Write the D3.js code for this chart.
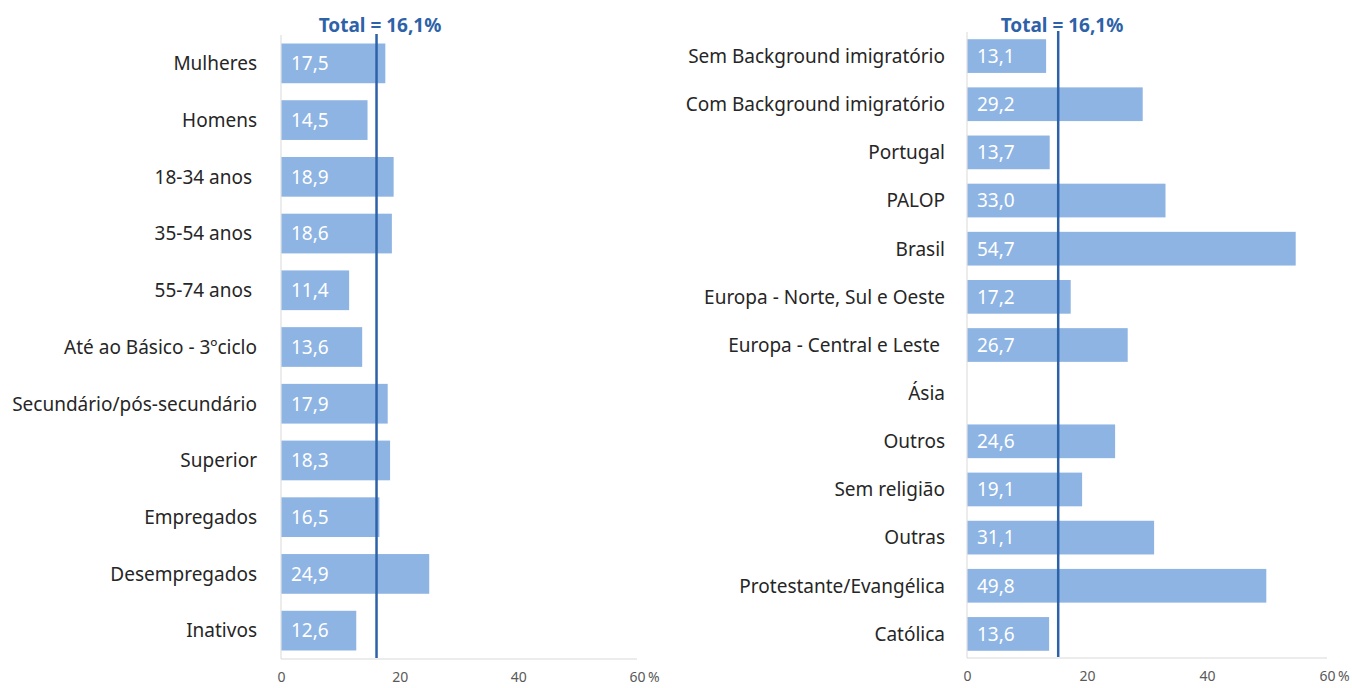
<!DOCTYPE html>
<html>
<head>
<meta charset="utf-8">
<script src="https://cdn.jsdelivr.net/npm/d3@7"></script>
<style>
  body { margin: 0; background: #fff; }
  svg { font-family: "Noto Sans", "Open Sans", sans-serif; }
</style>
</head>
<body>
<svg id="chart" width="1352" height="688"></svg>
<script>
// data
const left_categories = ['Mulheres', 'Homens', '18-34 anos ', '35-54 anos ', '55-74 anos ',
  'Até ao Básico - 3ºciclo', 'Secundário/pós-secundário', 'Superior', 'Empregados',
  'Desempregados', 'Inativos'];
const left_values = [17.5, 14.5, 18.9, 18.6, 11.4, 13.6, 17.9, 18.3, 16.5, 24.9, 12.6];

const right_categories = ['Sem Background imigratório', 'Com Background imigratório', 'Portugal',
  'PALOP', 'Brasil', 'Europa - Norte, Sul e Oeste', 'Europa - Central e Leste ', 'Ásia',
  'Outros', 'Sem religião', 'Outras', 'Protestante/Evangélica', 'Católica'];
const right_values = [13.1, 29.2, 13.7, 33.0, 54.7, 17.2, 26.7, null, 24.6, 19.1, 31.1, 49.8, 13.6];

const total_label = 'Total = 16,1%';
// where the reference line sits on each panel
const left_total = 16.1;
const right_total = 15.2;
const x_ticks = [0, 20, 40, 60];

const svg = d3.select('#chart');

function fmt(v){
  return v.toFixed(1).replace('.', ',');
}

function draw_panel(cats, vals, total, box){
  const g = svg.append('g');

  const x_scale = d3.scaleLinear().domain([0, 60]).range([box.x0, box.x1]);
  const y_scale = d3.scaleBand().domain(cats).range([box.top, box.bottom]).paddingInner(0.3).paddingOuter(0.15);

  // axis lines
  g.append('line')
    .attr('x1', box.x0).attr('x2', box.x0)
    .attr('y1', box.top).attr('y2', box.bottom)
    .attr('stroke', '#d9d9d9').attr('stroke-width', 1);
  g.append('line')
    .attr('x1', box.x0).attr('x2', box.x1)
    .attr('y1', box.bottom).attr('y2', box.bottom)
    .attr('stroke', '#d9d9d9').attr('stroke-width', 1);

  // bars
  const rows = cats.map((c, i) => ({cat: c, val: vals[i]})).filter(d => d.val !== null);
  g.selectAll('rect.bar').data(rows).enter().append('rect')
    .attr('class', 'bar')
    .attr('x', x_scale(0) + 0.5)
    .attr('y', d => y_scale(d.cat))
    .attr('width', d => x_scale(d.val) - x_scale(0))
    .attr('height', y_scale.bandwidth())
    .attr('fill', '#8db4e3');

  g.selectAll('text.val').data(rows).enter().append('text')
    .attr('class', 'val')
    .attr('x', x_scale(0) + 10)
    .attr('y', d => y_scale(d.cat) + y_scale.bandwidth() / 2)
    .attr('dy', '0.36em')
    .attr('fill', '#fff')
    .style('font-size', '19px')
    .text(d => fmt(d.val));

  // category labels
  g.selectAll('text.cat').data(cats).enter().append('text')
    .attr('class', 'cat')
    .attr('x', box.x0 - box.lab_gap)
    .attr('y', d => y_scale(d) + y_scale.bandwidth() / 2)
    .attr('dy', '0.36em')
    .attr('text-anchor', 'end')
    .attr('fill', '#262626')
    .attr('xml:space', 'preserve')
    .style('white-space', 'pre')
    .style('font-size', '19px')
    .text(d => d);

  // x axis tick labels
  const axis = d3.axisBottom(x_scale).tickValues(x_ticks).tickSize(0).tickPadding(0);
  const ax = g.append('g')
    .attr('transform', `translate(0, ${box.bottom + 13})`)
    .call(axis);
  ax.select('.domain').remove();
  ax.selectAll('text')
    .attr('fill', '#595959')
    .style('font-size', '14px')
    .style('font-family', '"Noto Sans", sans-serif');
  g.append('text')
    .attr('x', x_scale(60) + 11)
    .attr('y', box.bottom + 13)
    .attr('dy', '0.71em')
    .attr('fill', '#595959')
    .style('font-size', '14px')
    .text('%');

  // total line + label
  g.append('line')
    .attr('x1', x_scale(total)).attr('x2', x_scale(total))
    .attr('y1', box.top - 1).attr('y2', box.bottom - 1)
    .attr('stroke', '#2e62a8').attr('stroke-width', 2.5);
  g.append('text')
    .attr('x', box.title_x)
    .attr('y', 32)
    .attr('text-anchor', 'middle')
    .attr('fill', '#2e62a8')
    .style('font-weight', 'bold')
    .style('font-size', '19px')
    .text(total_label);
}

draw_panel(left_categories, left_values, left_total,
  {x0: 281, x1: 637, top: 35, bottom: 659, title_x: 380, lab_gap: 24});
draw_panel(right_categories, right_values, right_total,
  {x0: 967, x1: 1327, top: 32, bottom: 658, title_x: 1062, lab_gap: 22});
</script>
</body>
</html>
